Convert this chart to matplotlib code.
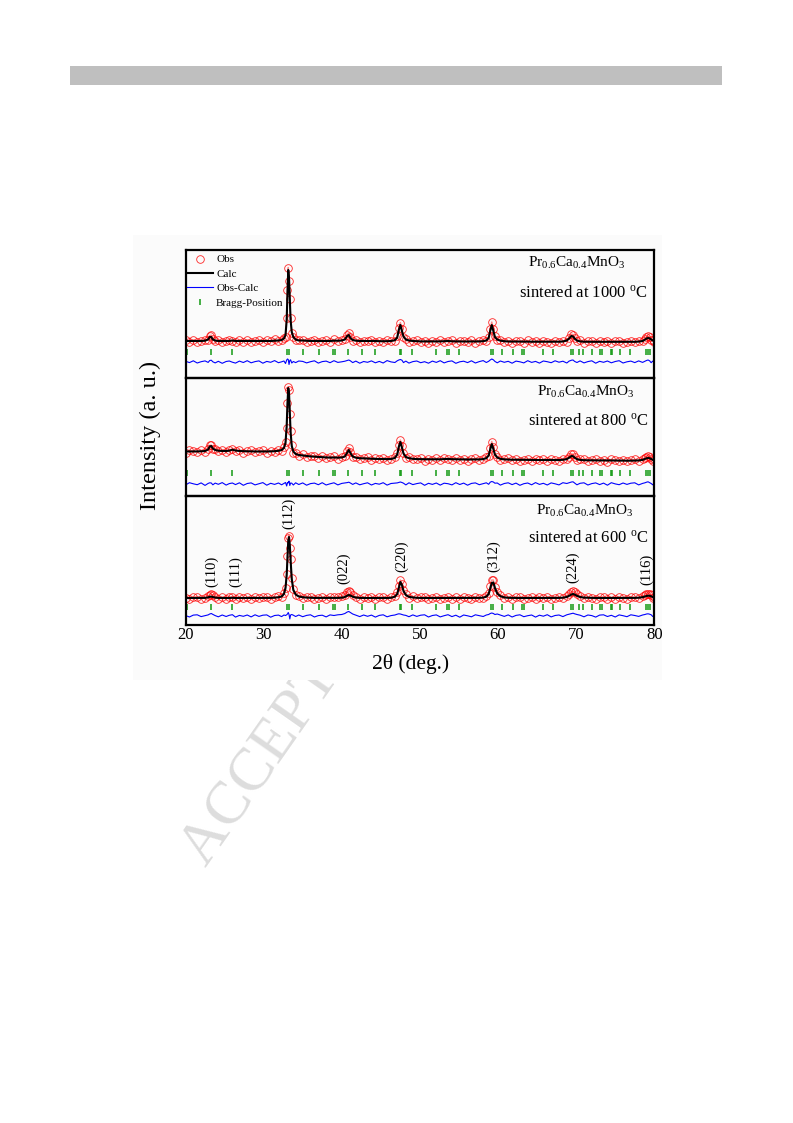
import matplotlib
matplotlib.use("Agg")
import matplotlib.pyplot as plt
import matplotlib.patches as patches
import numpy as np

plt.rcParams['font.family'] = ['Liberation Serif', 'DejaVu Serif']
plt.rcParams['mathtext.fontset'] = 'custom'
plt.rcParams['mathtext.rm'] = 'Liberation Serif'
plt.rcParams['mathtext.it'] = 'Liberation Serif:italic'

# ---- data (2theta grid shared by the three patterns) ----
two_theta = [
    20.0, 20.5, 21.0, 21.5, 22.0, 22.5, 22.9, 23.1, 23.3, 23.5, 23.8, 24.2, 24.7, 25.2, 25.6, 26.0, 26.4, 26.9, 27.4, 27.9,
    28.4, 28.9, 29.4, 29.9, 30.4, 30.9, 31.4, 31.9, 32.3, 32.6, 32.8, 32.95, 33.05, 33.15, 33.25, 33.35, 33.45, 33.6, 33.8, 34.1,
    34.5, 35.0, 35.5, 36.0, 36.5, 37.0, 37.5, 38.0, 38.5, 39.0, 39.5, 40.0, 40.4, 40.7, 40.9, 41.1, 41.4, 41.8, 42.3, 42.8,
    43.3, 43.8, 44.3, 44.8, 45.3, 45.8, 46.3, 46.8, 47.1, 47.3, 47.5, 47.7, 47.9, 48.2, 48.6, 49.1, 49.6, 50.1, 50.6, 51.1,
    51.6, 52.1, 52.6, 53.1, 53.6, 54.1, 54.6, 55.1, 55.6, 56.1, 56.6, 57.1, 57.6, 58.1, 58.5, 58.8, 59.0, 59.2, 59.4, 59.6,
    59.9, 60.3, 60.8, 61.3, 61.8, 62.3, 62.8, 63.3, 63.8, 64.3, 64.8, 65.3, 65.8, 66.3, 66.8, 67.3, 67.8, 68.3, 68.8, 69.1,
    69.4, 69.6, 69.8, 70.1, 70.5, 71.0, 71.5, 72.0, 72.5, 73.0, 73.5, 74.0, 74.5, 75.0, 75.5, 76.0, 76.5, 77.0, 77.5, 78.0,
    78.5, 78.8, 79.0, 79.2, 79.4, 79.6, 79.8, 80.0,
]

# calculated profiles (a.u.)
calc_1000 = [
    37, 37, 37, 37, 37, 37.3, 38.5, 41, 41, 38.5, 37.5, 37, 37, 37, 37, 37.5, 37, 37, 37, 37,
    37, 37, 37, 37, 37, 37, 37.2, 37.5, 38, 39.5, 43, 58, 85, 108, 100, 78, 58, 46, 41, 38.5,
    37.5, 37.5, 37.2, 37, 37, 37, 37, 37, 37, 37.3, 37.3, 37.5, 38.5, 42, 43, 40, 38, 37.3, 37, 37,
    37, 37, 37, 36.8, 36.8, 36.8, 37, 37.8, 40.5, 48, 53, 47, 41.5, 38.5, 37.5, 37, 36.8, 36.6, 36.6, 36.6,
    36.6, 36.6, 36.6, 36.8, 37, 36.7, 36.6, 36.6, 36.5, 36.5, 36.5, 36.5, 36.6, 36.8, 37.5, 40, 47, 53, 47, 41,
    38.5, 37.3, 36.8, 36.5, 36.5, 36.5, 36.5, 36.4, 36.3, 36.3, 36.3, 36.3, 36.3, 36.2, 36.2, 36.2, 36.3, 36.5, 37.5, 39.5,
    42, 41.5, 39.5, 37.5, 36.6, 36.3, 36.2, 36.2, 36.2, 36.2, 36.2, 36.2, 36.2, 36.2, 36.1, 36.1, 36.1, 36.1, 36.2, 36.4,
    37, 38.3, 39.5, 40, 39.6, 38.5, 37.5, 37,
]
calc_800 = [
    44.5, 44.5, 44.5, 44.6, 44.7, 45, 46.5, 49.5, 50, 47.5, 46, 45.3, 45, 45, 45.3, 46.3, 45.5, 45, 44.8, 44.7,
    44.6, 44.5, 44.5, 44.5, 44.5, 44.6, 44.8, 45.2, 46, 48, 53, 70, 92, 108, 103, 84, 64, 50, 44.5, 42,
    41, 40.5, 40, 39.6, 39.3, 39, 38.8, 38.6, 38.4, 38.5, 38.4, 38.5, 39.5, 43.5, 46, 43, 39.5, 38.3, 37.8, 37.6,
    37.4, 37.2, 37.1, 37, 36.9, 36.9, 37, 38, 41.5, 49, 54, 48.5, 42.5, 39, 37.8, 37.2, 36.9, 36.8, 36.7, 36.7,
    36.7, 36.7, 36.7, 36.9, 37.1, 36.8, 36.7, 36.6, 36.5, 36.5, 36.5, 36.5, 36.6, 36.9, 37.8, 40.5, 46.5, 52, 47, 41.5,
    38.5, 37.2, 36.6, 36.4, 36.3, 36.3, 36.2, 36.2, 36.1, 36, 36, 36, 35.9, 35.9, 35.9, 35.9, 36, 36.2, 36.9, 38.3,
    40, 39.8, 38.4, 36.9, 36.1, 35.8, 35.7, 35.7, 35.6, 35.6, 35.6, 35.5, 35.5, 35.5, 35.4, 35.4, 35.3, 35.3, 35.4, 35.6,
    36.1, 37, 37.7, 38, 37.8, 37, 36.2, 35.8,
]
calc_600 = [
    27, 27, 27, 27, 27, 27.1, 27.6, 28.2, 28.4, 28, 27.4, 27.1, 27, 27, 27, 27.2, 27, 27, 27, 27,
    27, 27, 27, 27, 27, 27.1, 27.3, 27.7, 28.5, 31, 37, 50, 67, 84, 88, 80, 65, 46, 35, 30.5,
    28.5, 27.8, 27.4, 27.2, 27.1, 27.1, 27.1, 27, 27, 27.1, 27.1, 27.3, 28, 29.3, 30, 29.5, 28.3, 27.5, 27.1, 27,
    27, 27, 27, 27, 27, 27, 27.2, 28.3, 31, 37, 43, 40, 34, 30, 28.2, 27.5, 27.2, 27, 27, 27,
    27, 27, 27, 27, 27.1, 27, 27, 27, 27, 27, 27, 27, 27.1, 27.4, 28.3, 31, 36.5, 42, 42.5, 37,
    31.5, 28.8, 27.6, 27.2, 27.1, 27, 27, 27, 27, 27, 27, 27, 27, 27, 27, 27, 27.1, 27.3, 28, 29.2,
    30.5, 31, 30.5, 29.2, 28, 27.4, 27.2, 27.1, 27, 27, 27, 27, 27, 27, 27, 27, 27, 27, 27.1, 27.3,
    27.8, 28.5, 29, 29.3, 29.2, 28.7, 28, 27.6,
]

# Obs - Calc residuals (a.u.)
resid_1000 = [
    0.8, -0.6, 1.2, -1.0, 0.3, 1.1, -0.4, 1.5, 1.8, 0.2, -0.9, 0.7, -1.3, 0.5, 1.0, -0.2, -1.1, 0.9, -0.5, 1.3,
    -0.8, 0.4, 1.1, -1.2, 0.6, -0.3, 1.4, -0.7, 0.2, 1.0, -1.5, 2.0, 3.0, 2.5, -2.5, 1.5, 2.2, -1.0, 0.5, -0.6,
    1.0, 0.6, -0.9, 0.3, 1.2, -1.1, 0.4, 0.9, -0.7, 1.3, -0.4, 0.2, 0.8, 1.5, 2.0, 1.2, -0.6, 0.9, -1.2, 0.5,
    -0.3, 1.1, -0.8, 0.6, -1.0, 1.4, 0.1, -0.5, 1.2, 2.0, 2.5, 1.8, -0.6, 0.9, -1.1, 0.4, 1.0, -0.7, 0.3, -1.2,
    0.9, -0.4, 1.3, -0.9, 0.5, 1.1, -1.3, 0.2, 0.8, -0.6, 1.2, -1.0, 0.4, 1.4, -0.5, 0.7, 2.0, 3.0, 2.2, 0.6,
    -0.8, 1.0, -0.3, 0.7, -1.2, 0.9, 0.2, -0.9, 1.3, -0.4, 0.6, -1.1, 1.0, 0.3, -0.7, 1.2, -0.2, 0.8, -1.0, 0.9,
    1.8, 2.0, 0.6, -0.5, 1.1, -0.9, 0.4, 1.2, -1.2, 0.7, -0.3, 1.0, -0.8, 0.5, 1.3, -1.0, 0.2, 0.9, -0.6, 1.1,
    -0.4, 0.8, 1.5, 2.0, 1.2, -0.7, 0.9, -0.5,
]
resid_800 = [
    -1.0, 1.3, 0.2, -0.7, 1.1, -1.4, 0.6, 1.2, 1.0, -0.8, 0.9, -0.3, 1.4, -1.1, 0.4, 1.0, -0.6, 1.2, -1.3, 0.5,
    1.1, -0.9, 0.3, 1.4, -1.2, 0.7, -0.4, 1.0, -0.8, 0.6, 1.5, -2.0, 1.5, 1.2, 2.8, -1.5, 1.0, 0.8, -1.0, 1.2,
    -0.5, 1.1, -1.2, 0.4, 0.9, -0.7, 1.3, -1.0, 0.2, 1.2, -0.9, 0.6, 1.0, 1.4, 1.8, 1.0, -0.4, 1.1, -0.8, 0.3,
    1.2, -1.0, 0.6, -0.2, 1.3, -1.1, 0.5, 0.9, 1.1, 1.6, 2.0, 1.5, 0.8, -0.9, 1.2, -0.6, 0.4, 1.1, -1.3, 0.7,
    -0.4, 1.0, -1.1, 0.8, 0.3, -0.9, 1.3, -0.5, 0.9, -1.2, 0.6, 1.1, -0.7, 0.4, 1.2, -0.3, 1.8, 2.5, 2.0, 0.8,
    1.0, -1.1, 0.5, 1.2, -0.6, 0.9, -1.3, 0.3, 1.0, -0.8, 1.4, -0.4, 0.7, -1.0, 1.1, 0.2, -0.9, 1.3, 0.5, 1.2,
    2.0, 2.2, 1.0, -0.8, 0.7, 1.2, -1.0, 0.4, 1.1, -0.6, 0.9, -1.2, 1.3, 0.1, -0.7, 1.0, -0.4, 0.8, 1.2, -0.9,
    0.6, 1.2, 1.8, 2.2, 1.4, 0.5, -0.8, 0.9,
]
resid_600 = [
    0.5, -1.0, 0.9, 1.2, -0.6, 0.3, 1.1, 2.0, 2.5, 1.6, 0.4, -0.8, 1.0, -0.5, 0.7, 1.3, -1.1, 0.6, -0.3, 1.0,
    -0.9, 1.2, -0.4, 0.8, 1.1, -1.2, 0.5, 0.9, -0.6, 1.0, 0.5, 1.2, 2.0, 3.5, 1.5, -3.0, 1.0, 1.5, 0.8, -0.5,
    1.0, -0.7, 0.6, 1.2, -1.0, 0.4, 0.8, -0.9, 1.1, 0.5, 1.2, 1.5, 2.5, 4.0, 4.5, 3.5, 2.0, 0.8, -0.6, 1.0,
    -0.3, 0.9, -1.1, 0.6, 1.2, -0.8, 0.4, 1.0, 1.8, 2.2, 2.0, 1.5, 1.0, 0.6, -0.7, 1.1, -0.4, 0.8, 1.2, -1.0,
    0.5, 1.1, -0.9, 0.3, 1.3, -0.6, 0.8, -1.2, 1.0, 0.2, -0.8, 1.2, 0.4, -0.5, 1.0, 1.5, 2.5, 3.0, 2.5, 1.5,
    2.0, 0.9, -0.4, 1.1, -1.0, 0.6, 1.2, -0.7, 0.3, 1.0, -1.1, 0.8, -0.2, 1.3, -0.9, 0.5, 1.0, -0.6, 1.2, 1.8,
    2.5, 2.8, 2.2, 1.5, 0.8, -0.8, 1.0, 0.4, -1.1, 0.9, 1.2, -0.5, 0.7, -1.0, 1.1, 0.3, -0.7, 1.2, 0.5, -0.4,
    1.0, 1.5, 2.0, 2.2, 1.8, 1.2, -0.5, 0.8,
]

bragg_pos = [20.2, 23.2, 26.0, 33.0, 33.2, 35.1, 37.1, 38.9, 39.1, 40.8, 42.6, 44.2,
             47.4, 47.6, 49.0, 52.1, 53.5, 53.7, 55.0, 59.1, 59.3, 60.5, 61.9, 63.1,
             63.3, 65.7, 67.0, 69.4, 69.6, 70.4, 70.9, 72.0, 73.1, 73.3, 74.4, 74.6,
             75.6, 76.9, 78.9, 79.2, 79.5]

temps = ["1000", "800", "600"]
hkl_labels = ["(110)", "(111)", "(112)", "(022)", "(220)", "(312)", "(224)", "(116)"]
hkl_pos = [23.4, 26.4, 33.25, 40.2, 47.6, 59.4, 69.6, 79.0]
hkl_base = [38, 38, 96, 41, 53, 53, 42, 40]

calcs = [calc_1000, calc_800, calc_600]
resids = [resid_1000, resid_800, resid_600]

# ---- figure ----
W, H = 793, 1123
fig = plt.figure(figsize=(W / 100, H / 100), dpi=100)
fig.patch.set_facecolor("white")

# page decorations
fig.add_artist(patches.Rectangle((70 / W, 1 - 85 / H), 652 / W, 19 / H,
                                 transform=fig.transFigure, fc="#bfbfbf", ec="none", zorder=0))
fig.text(402 / W, 1 - 562 / H, "ACCEPTED MANUSCRIPT", rotation=55, fontsize=44,
         color="#dddddd", ha="center", va="center", zorder=-3)
fig.add_artist(patches.Rectangle((133 / W, 1 - 680 / H), 529 / W, 445 / H,
                                 transform=fig.transFigure, fc="#fbfbfb", ec="none", zorder=-1))

# panel boxes in pixels: (top, bottom)
boxes = [(250, 378), (378, 496), (496, 625)]
x_left, x_right = 185.5, 654.3
diff_level = [16, 12, 9]
tick_level = [26.5, 23, 18]
text_left = [528, 536.7, 536]
formula_base = [17.3, 18, 19]
sinter_base = [46.7, 47, 45.7]

x = np.array(two_theta)
axes = []
for i, (top, bot) in enumerate(boxes):
    ax = fig.add_axes([x_left / W, 1 - bot / H, (x_right - x_left) / W, (bot - top) / H])
    ax.set_facecolor("none")
    calc = np.array(calcs[i])
    res = np.array(resids[i])
    obs = calc + res

    ax.plot(x, obs, "-", color="red", lw=1.0, alpha=0.45, zorder=2)
    ax.plot(x, obs, "o", ms=5.5, mfc="none", mec="red", mew=0.6, alpha=0.85,
            label="Obs", zorder=2)
    ax.plot(x, calc, "-", color="black", lw=1.5, label="Calc", zorder=3)
    ax.plot(x, diff_level[i] + res, "-", color="blue", lw=0.8, label="Obs-Calc", zorder=2)
    ax.plot(bragg_pos, [tick_level[i]] * len(bragg_pos), "|", color="#149a14", ms=4.8,
            mew=1.3, alpha=0.85, label="Bragg-Position", zorder=2)

    ax.set_xlim(20, 80)
    ax.set_ylim(0, bot - top)
    ax.set_yticks([])
    ax.set_xticks([20, 30, 40, 50, 60, 70, 80])
    ax.tick_params(axis="x", length=0, pad=1.5, labelsize=12)
    if i < 2:
        ax.tick_params(axis="x", labelbottom=False)
    for sp in ax.spines.values():
        sp.set_linewidth(1.6)

    ax.text(648 / W, 1 - (top + sinter_base[i]) / H,
            "sintered at " + temps[i] + r" $^{\mathrm{o}}$C", transform=fig.transFigure,
            ha="right", va="baseline", fontsize=12)
    ax.text(text_left[i] / W, 1 - (top + formula_base[i]) / H,
            r"Pr$_{\mathrm{0.6}}$Ca$_{\mathrm{0.4}}$MnO$_{\mathrm{3}}$", transform=fig.transFigure,
            ha="left", va="baseline", fontsize=11)
    axes.append(ax)

handles, labels = axes[0].get_legend_handles_labels()
leg = axes[0].legend(handles, labels, loc="upper left", bbox_to_anchor=(0, 1 - 3 / 128),
                     frameon=False, fontsize=8, numpoints=1, borderaxespad=0, borderpad=0.15,
                     handlelength=2.3, handletextpad=0.3, labelspacing=0.42)

for lab, p, b in zip(hkl_labels, hkl_pos, hkl_base):
    axes[2].text(p, b, lab, rotation=90, ha="center", va="bottom", fontsize=10.5)

fig.text(150 / W, 1 - 435 / H, "Intensity (a. u.)", rotation=90, ha="center", va="center",
         fontsize=17.5)
fig.text(411 / W, 1 - 664 / H, "2θ (deg.)", ha="center", va="center", fontsize=15.5)

fig.savefig("out.png", dpi=100)
